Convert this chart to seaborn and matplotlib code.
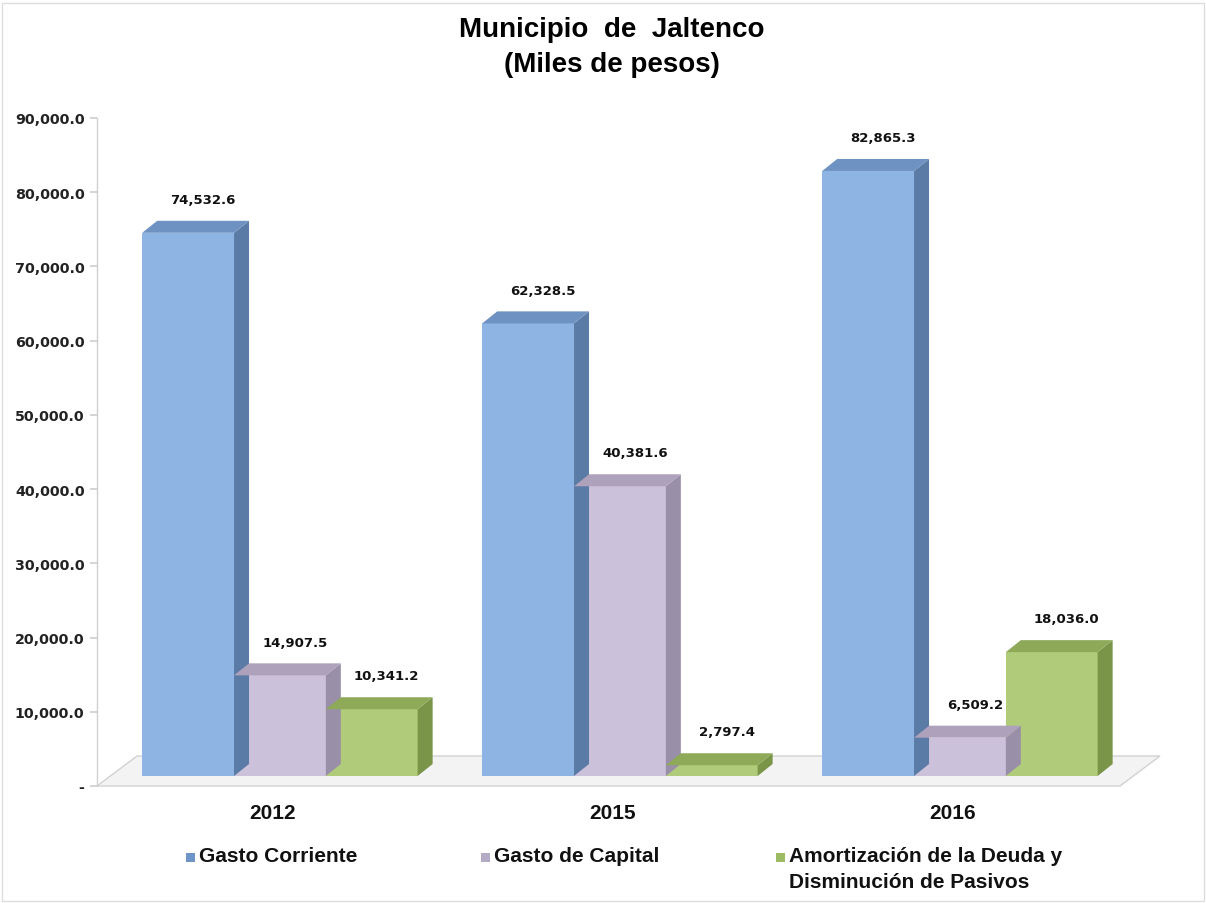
import numpy as np
import pandas as pd
import matplotlib
matplotlib.use("Agg")
import matplotlib.pyplot as plt
import matplotlib.transforms as mtransforms
from matplotlib.patches import Polygon, Rectangle
import seaborn as sns

years = ["2012", "2015", "2016"]
series = ["Gasto Corriente", "Gasto de Capital",
          "Amortización de la Deuda y\nDisminución de Pasivos"]
gasto_corriente = [74532.6, 62328.5, 82865.3]
gasto_capital = [14907.5, 40381.6, 6509.2]
amortizacion = [10341.2, 2797.4, 18036.0]
yticks = [0, 10000, 20000, 30000, 40000, 50000, 60000, 70000, 80000, 90000]

front_colors = ["#8DB4E3", "#CCC1DA", "#B0CC7A"]
side_colors = ["#5A7BA5", "#9A8FA8", "#7A9448"]
top_colors = ["#6E92C2", "#ADA1BC", "#8EAA58"]
legend_colors = ["#6F95C8", "#B5AAC6", "#9DBB62"]

df = pd.DataFrame({
    "year": years * 3,
    "serie": sum([[s] * 3 for s in series], []),
    "value": gasto_corriente + gasto_capital + amortizacion,
})

sns.set_theme(style="white")
plt.rcParams["font.family"] = ["DejaVu Sans"]

W, H = 1206, 904
fig = plt.figure(figsize=(W / 100, H / 100), dpi=100)
ax = fig.add_axes([97 / W, 1 - 787 / H, (1150 - 97) / W, (787 - 119) / H])

sns.barplot(data=df, x="year", y="value", hue="serie", hue_order=series,
            order=years, palette=front_colors, saturation=1, width=0.81, ax=ax,
            legend=False, edgecolor="none", zorder=3)

ax.set_xlim(-0.538, 2.559)
ax.set_ylim(0, 90000)

# pixel -> data conversions
px_x = (1150 - 97) / (2.559 + 0.538)
px_y = (787 - 119) / 90000
ddx = 15 / px_x
ddy = 12 / px_y

# floor
xl, xr = ax.get_xlim()
floor = Polygon([(xl, 0), (xl + 40 / px_x, 30 / px_y), (xr + 10 / px_x, 30 / px_y),
                 (xr - 30 / px_x, 0)], closed=True, facecolor="#F3F3F3",
                edgecolor="#D2D2D2", lw=1.0, zorder=1, clip_on=False)
ax.add_patch(floor)

base = 10 / px_y
for i, cont in enumerate(ax.containers):
    for bar, val in zip(cont, df[df["serie"] == series[i]]["value"]):
        x0 = bar.get_x()
        w = bar.get_width()
        h = bar.get_height()
        bar.set_y(base)
        bar.set_height(h - base)
        x1 = x0 + w
        side = Polygon([(x1, base), (x1 + ddx, base + ddy), (x1 + ddx, h + ddy), (x1, h)],
                       closed=True, facecolor=side_colors[i], edgecolor="none", zorder=3)
        top = Polygon([(x0, h), (x0 + ddx, h + ddy), (x1 + ddx, h + ddy), (x1, h)],
                      closed=True, facecolor=top_colors[i], edgecolor="none", zorder=3)
        ax.add_patch(side)
        ax.add_patch(top)
        ax.text(x0 + w / 2 + ddx, h + ddy + 2000, f"{val:,.1f}", ha="center", va="bottom",
                fontsize=9.5, fontweight="bold", color="#111111", zorder=5)

# axes styling
for s in ["top", "right", "bottom"]:
    ax.spines[s].set_visible(False)
ax.spines["left"].set_color("#D0D0D0")
ax.spines["left"].set_linewidth(1.0)
ax.set_yticks(yticks)
ax.set_yticklabels(["-"] + [f"{v:,.1f}" for v in yticks[1:]],
                   fontsize=10.3, fontweight="bold", color="#222222")
ax.tick_params(axis="y", length=5, color="#D0D0D0", pad=4, left=True)
ax.tick_params(axis="x", length=0, pad=12)
ax.set_xticks(range(len(years)))
ax.set_xticklabels(years, fontsize=15, fontweight="bold", color="#111111",
                   family=["Liberation Sans"])
shift = mtransforms.ScaledTranslation(-7 / 100, 0, fig.dpi_scale_trans)
for lbl in ax.get_xticklabels():
    lbl.set_transform(lbl.get_transform() + shift)
ax.set_xlabel("")
ax.set_ylabel("")
ax.grid(False)

fig.text(0.507, 1 - 30 / H, "Municipio  de  Jaltenco", ha="center", va="center",
         fontsize=20, fontweight="bold", color="black", family=["Liberation Sans"])
fig.text(0.507, 1 - 65 / H, "(Miles de pesos)", ha="center", va="center",
         fontsize=20, fontweight="bold", color="black", family=["Liberation Sans"])

# legend (manual)
leg_x = [190, 485, 780]
for i, s in enumerate(series):
    fig.patches.append(Rectangle((leg_x[i] / W - 4 / W, 1 - 863 / H), 9 / W, 9 / H,
                                 transform=fig.transFigure, facecolor=legend_colors[i],
                                 edgecolor="none"))
    fig.text((leg_x[i] + 9) / W, 1 - 847 / H, s, ha="left", va="top",
             fontsize=15, fontweight="bold", color="#111111", linespacing=1.45,
             family=["Liberation Sans"])

fig.patches.append(Rectangle((2 / W, 2 / H), (W - 4) / W, (H - 6) / H,
                             transform=fig.transFigure, facecolor="none",
                             edgecolor="#DDDDDD", lw=1.0))

fig.savefig("out.png", dpi=100)
